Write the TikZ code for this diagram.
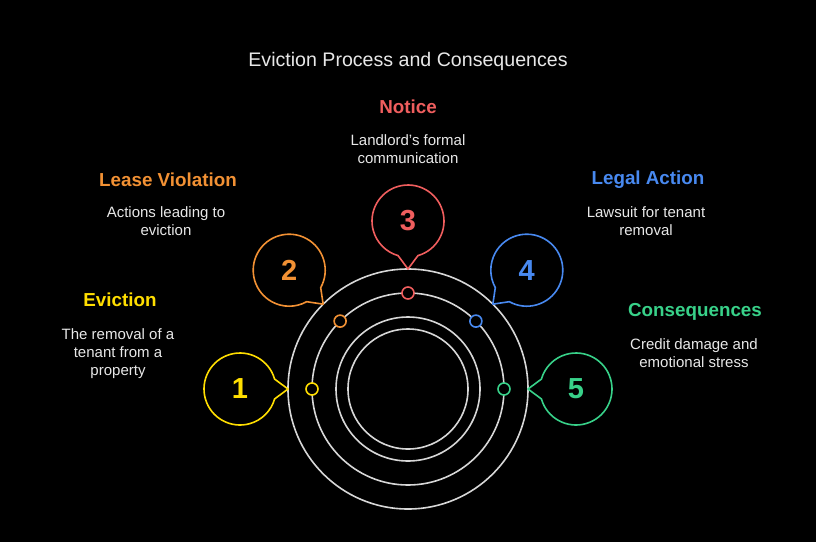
\documentclass[tikz,border=0pt]{standalone}
\usepackage{fontspec}
\setmainfont{Liberation Sans}
\usetikzlibrary{calc}

\definecolor{bg}{RGB}{0,0,0}
\definecolor{ringgray}{RGB}{215,215,215}
\definecolor{txtgray}{RGB}{232,232,232}
\definecolor{cyellow}{RGB}{255,222,0}
\definecolor{corange}{RGB}{242,145,52}
\definecolor{cred}{RGB}{240,94,94}
\definecolor{cblue}{RGB}{72,137,240}
\definecolor{cgreen}{RGB}{56,209,137}

\tikzset{
  ring/.style={draw=ringgray, line width=1.6pt},
  dot/.style={circle, draw, line width=1.6pt, fill=bg, minimum size=12pt, inner sep=0pt},
  bubble/.style={line width=1.6pt, fill=bg, line join=round},
  numtxt/.style={font=\fontsize{29}{33}\selectfont\bfseries},
  headtxt/.style={font=\fontsize{18.8}{22}\selectfont\bfseries},
  desctxt/.style={font=\fontsize{15}{18}\selectfont, text=txtgray, align=center},
  titletxt/.style={font=\fontsize{19.6}{22}\selectfont, text=txtgray}
}

\begin{document}
\begin{tikzpicture}[x=1pt, y=-1pt]

  \fill[bg] (0, 0) rectangle (816, 542);
  \useasboundingbox (0, 0) rectangle (816, 542);

  \node[titletxt] (title) at (408, 61) {Eviction Process and Consequences};

  % Rings
  \coordinate (o) at (408, 389);
  \draw[ring] (o) circle[radius=120];
  \draw[ring] (o) circle[radius=96];
  \draw[ring] (o) circle[radius=72];
  \draw[ring] (o) circle[radius=60];

  % Step 1: Eviction
  \coordinate (t1) at ($(o) + (180:120)$);
  \coordinate (c1) at ($(o) + (180:168)$);
  \draw[bubble, draw=cyellow] ($(c1) + (16:36)$) -- (t1) -- ($(c1) + (-16:36)$)
    arc[start angle=-16, end angle=-344, radius=36] -- cycle;
  \node[numtxt, text=cyellow] (b1) at (c1) {1};
  \node[dot, draw=cyellow] (m1) at ($(o) + (180:96)$) {};
  \node[headtxt, text=cyellow] (h1) at (120, 300) {Eviction};
  \node[desctxt] (d1) at (118, 354) {The removal of a\\tenant from a\\property};

  % Step 2: Lease Violation
  \coordinate (t2) at ($(o) + (225:120)$);
  \coordinate (c2) at ($(o) + (225:168)$);
  \draw[bubble, draw=corange] ($(c2) + (61:36)$) -- (t2) -- ($(c2) + (29:36)$)
    arc[start angle=29, end angle=-299, radius=36] -- cycle;
  \node[numtxt, text=corange] (b2) at (c2) {2};
  \node[dot, draw=corange] (m2) at ($(o) + (225:96)$) {};
  \node[headtxt, text=corange] (h2) at (168, 180) {Lease Violation};
  \node[desctxt] (d2) at (166, 221.5) {Actions leading to\\eviction};

  % Step 3: Notice
  \coordinate (t3) at ($(o) + (270:120)$);
  \coordinate (c3) at ($(o) + (270:168)$);
  \draw[bubble, draw=cred] ($(c3) + (106:36)$) -- (t3) -- ($(c3) + (74:36)$)
    arc[start angle=74, end angle=-254, radius=36] -- cycle;
  \node[numtxt, text=cred] (b3) at (c3) {3};
  \node[dot, draw=cred] (m3) at ($(o) + (270:96)$) {};
  \node[headtxt, text=cred] (h3) at (408, 107) {Notice};
  \node[desctxt] (d3) at (408, 149.5) {Landlord's formal\\communication};

  % Step 4: Legal Action
  \coordinate (t4) at ($(o) + (315:120)$);
  \coordinate (c4) at ($(o) + (315:168)$);
  \draw[bubble, draw=cblue] ($(c4) + (151:36)$) -- (t4) -- ($(c4) + (119:36)$)
    arc[start angle=119, end angle=-209, radius=36] -- cycle;
  \node[numtxt, text=cblue] (b4) at (c4) {4};
  \node[dot, draw=cblue] (m4) at ($(o) + (315:96)$) {};
  \node[headtxt, text=cblue] (h4) at (648, 180) {Legal Action};
  \node[desctxt] (d4) at (646, 221.5) {Lawsuit for tenant\\removal};

  % Step 5: Consequences
  \coordinate (t5) at ($(o) + (0:120)$);
  \coordinate (c5) at ($(o) + (0:168)$);
  \draw[bubble, draw=cgreen] ($(c5) + (196:36)$) -- (t5) -- ($(c5) + (164:36)$)
    arc[start angle=164, end angle=-164, radius=36] -- cycle;
  \node[numtxt, text=cgreen] (b5) at (c5) {5};
  \node[dot, draw=cgreen] (m5) at ($(o) + (0:96)$) {};
  \node[headtxt, text=cgreen] (h5) at (695, 312) {Consequences};
  \node[desctxt] (d5) at (694, 353.5) {Credit damage and\\emotional stress};

\end{tikzpicture}
\end{document}
